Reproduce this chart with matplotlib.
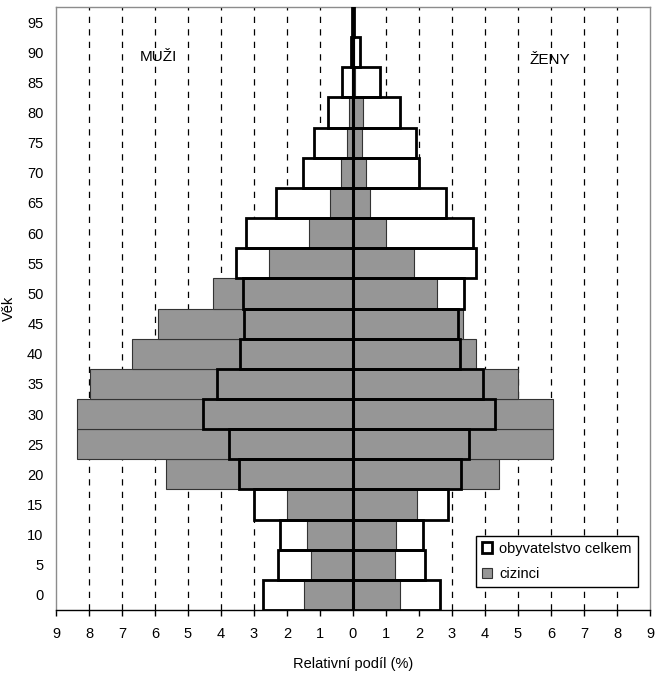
import numpy as np
import matplotlib.pyplot as plt
from matplotlib.patches import Patch

plt.rcParams['font.family'] = ['Liberation Sans', 'DejaVu Sans']

# age groups (lower bound of each 5-year group)
ages = [0, 5, 10, 15, 20, 25, 30, 35, 40, 45, 50, 55, 60, 65, 70, 75, 80, 85, 90, 95]

# relative share (%) - whole population
muzi_celkem = [2.74, 2.28, 2.21, 3.00, 3.45, 3.75, 4.55, 4.12, 3.42, 3.29,
               3.34, 3.53, 3.24, 2.32, 1.51, 1.17, 0.75, 0.34, 0.05, 0.02]
zeny_celkem = [2.64, 2.18, 2.13, 2.87, 3.27, 3.52, 4.29, 3.93, 3.25, 3.17,
               3.35, 3.72, 3.64, 2.81, 2.01, 1.90, 1.42, 0.81, 0.20, 0.03]

# relative share (%) - foreigners
muzi_cizinci = [1.48, 1.27, 1.40, 1.99, 5.67, 8.35, 8.37, 7.96, 6.71, 5.92,
                4.25, 2.54, 1.32, 0.70, 0.37, 0.19, 0.11, 0.04, 0.01, 0.0]
zeny_cizinci = [1.42, 1.26, 1.30, 1.93, 4.43, 6.05, 6.05, 5.01, 3.72, 3.33,
                2.55, 1.85, 1.00, 0.52, 0.38, 0.26, 0.29, 0.06, 0.02, 0.0]

x_ticks = list(range(-9, 10))

fig = plt.figure(figsize=(6.64, 6.73), dpi=100)
ax = fig.add_axes([0.0843, 0.0936, 0.8946, 0.896])

y = np.arange(len(ages))
m_tot = -np.array(muzi_celkem)
m_ciz = -np.array(muzi_cizinci)
z_tot = np.array(zeny_celkem)
z_ciz = np.array(zeny_cizinci)

# vertical dashed grid
for xv in x_ticks:
    if xv not in (-9, 0, 9):
        ax.axvline(xv, color='black', lw=0.9, ls=(0, (5, 5)), zorder=1)

# white fill of the total bars
ax.barh(y, m_tot, height=1.0, color='white', edgecolor='none', zorder=2)
ax.barh(y, z_tot, height=1.0, color='white', edgecolor='none', zorder=2)
# foreigners (gray)
ax.barh(y, m_ciz, height=1.0, color='#969696', edgecolor='#333333', lw=0.8, zorder=3)
ax.barh(y, z_ciz, height=1.0, color='#969696', edgecolor='#333333', lw=0.8, zorder=3)
# outline of the total bars on top
ax.barh(y, m_tot, height=1.0, fill=False, edgecolor='black', lw=2.0, zorder=4)
ax.barh(y, z_tot, height=1.0, fill=False, edgecolor='black', lw=2.0, zorder=4)

ax.axvline(0, color='black', lw=2.2, zorder=5)

ax.set_xlim(-9, 9)
ax.set_ylim(-0.5, len(ages) - 0.5)
ax.set_xticks(x_ticks)
ax.set_xticklabels([str(abs(v)) for v in x_ticks], fontsize=10.5)
ax.set_yticks(y)
ax.set_yticklabels([str(a) for a in ages], fontsize=10.5)
ax.tick_params(axis='y', length=0, pad=9)
ax.tick_params(axis='x', length=4, width=1, direction='out', pad=8)

for s in ['left', 'top', 'right']:
    ax.spines[s].set_color('#8c8c8c')
    ax.spines[s].set_linewidth(1.0)
ax.spines['bottom'].set_color('black')
ax.spines['bottom'].set_linewidth(1.0)

ax.set_xlabel('Relativní podíl (%)', fontsize=10.5, labelpad=12)
ax.set_ylabel('Věk', fontsize=10.5)
ax.yaxis.set_label_coords(-0.068, 0.5)

ax.text(-5.9, 17.85, 'MUŽI', fontsize=11, ha='center', va='center')
ax.text(5.95, 17.75, 'ŽENY', fontsize=11, ha='center', va='center')

handles = [Patch(facecolor='white', edgecolor='black', lw=2.0),
           Patch(facecolor='#969696', edgecolor='#333333', lw=0.8)]
leg = ax.legend(handles, ['obyvatelstvo celkem', 'cizinci'],
                loc='lower left', bbox_to_anchor=(0.707, 0.038),
                borderaxespad=0, fontsize=10.5, fancybox=False, framealpha=1,
                edgecolor='black', handlelength=0.7, handleheight=0.7,
                handletextpad=0.5, borderpad=0.4, labelspacing=0.8)
leg.get_frame().set_linewidth(1.0)
leg.set_zorder(6)

fig.savefig('out.png', dpi=100)
